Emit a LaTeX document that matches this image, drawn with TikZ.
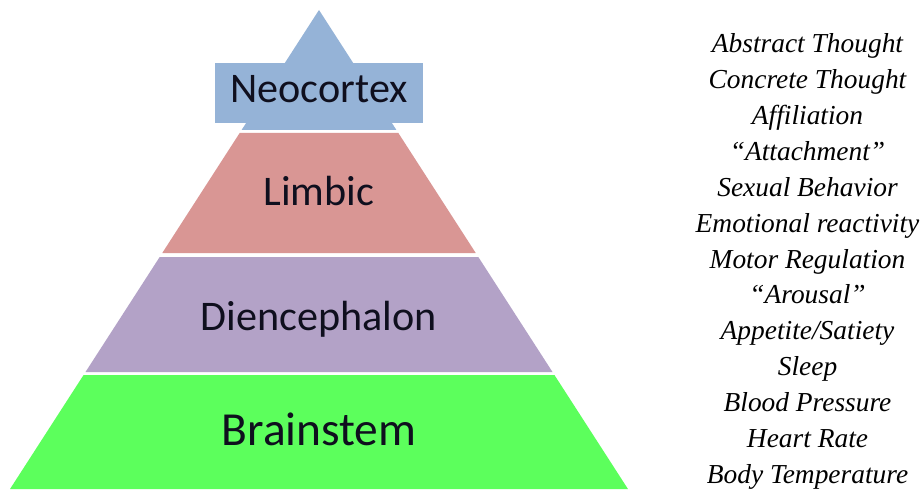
\documentclass[tikz,border=0pt]{standalone}
\usepackage{fontspec}
\setmainfont{Carlito}
\newfontfamily\listfont{Liberation Serif}
\usetikzlibrary{calc}

\definecolor{neoblue}{RGB}{149,179,215}
\definecolor{limbred}{RGB}{217,150,148}
\definecolor{dienpurple}{RGB}{179,162,199}
\definecolor{stemgreen}{RGB}{92,255,92}
\definecolor{labelink}{RGB}{15,15,30}

% one horizontal slice of the pyramid: colour, top y, bottom y
\newcommand{\pyrband}[3]{%
    \fill[#1] ({6.38-0.645*(9.58-#2)}, #2) -- ({6.38+0.645*(9.58-#2)}, #2)
        -- ({6.38+0.645*(9.58-#3)}, #3) -- ({6.38-0.645*(9.58-#3)}, #3) -- cycle;}

\begin{document}
\begin{tikzpicture}[
        layer/.style={font=\fontsize{24}{28}\selectfont, text=labelink, anchor=base},
        item/.style={font=\listfont\itshape\fontsize{15.6}{19}\selectfont, anchor=base},
    ]
    \useasboundingbox[fill=white] (0,0) rectangle (18.48,9.78);

    % ---- Pyramid slices ----
    \pyrband{neoblue}{9.58}{7.18}
    \pyrband{limbred}{7.12}{4.72}
    \pyrband{dienpurple}{4.64}{2.34}
    \pyrband{stemgreen}{2.28}{0}

    % ---- Layer labels ----
    \node[fill=neoblue, minimum width=4.16cm, minimum height=1.2cm] (neobox) at (6.38, 7.92) {};
    \node[layer] (neo) at (6.38, 7.72) {Neocortex};
    \node[layer] (limbic) at (6.38, 5.68) {Limbic};
    \node[layer] (dien) at (6.38, 3.18) {Diencephalon};
    \node[layer, font=\fontsize{27}{31}\selectfont] (stem) at (6.38, 0.88) {Brainstem};

    % ---- Functions, top to bottom ----
    \foreach \txt [count=\i] in {Abstract Thought, Concrete Thought, Affiliation, {“Attachment”},
            Sexual Behavior, Emotional reactivity, Motor Regulation, {“Arousal”},
            Appetite/Satiety, Sleep, Blood Pressure, Heart Rate, Body Temperature}
        \node[item] (fn\i) at (16.15, {8.72-0.7167*(\i-1)}) {\txt};

\end{tikzpicture}
\end{document}
